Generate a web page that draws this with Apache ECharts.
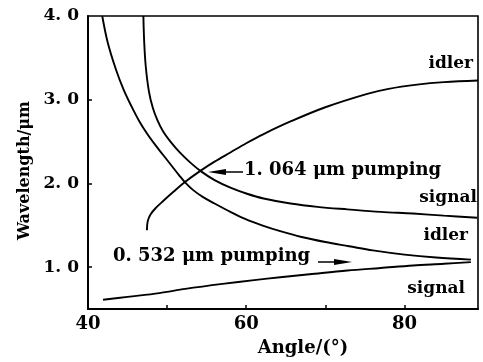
<!DOCTYPE html>
<html>
<head>
<meta charset="utf-8">
<script src="https://cdn.jsdelivr.net/npm/echarts@6/dist/echarts.min.js"></script>
<style>
html,body{margin:0;padding:0;background:#fff;}
#c{width:483px;height:362px;}
</style>
</head>
<body>
<div id="c"></div>
<script>
// Data (angle in degrees, wavelength in µm)
const idler532 = [[41.8,4.0],[42.5,3.68],[43.5,3.37],[44.5,3.12],[45.5,2.92],[46.5,2.74],[47.5,2.59],[48.5,2.46],[49.5,2.34],[50.5,2.22],[51.5,2.1],[52.3,2.01],[53.3,1.92],[54.5,1.84],[56,1.76],[58,1.66],[60,1.57],[62,1.5],[64.3,1.43],[67,1.36],[70,1.3],[73,1.25],[76,1.2],[80,1.15],[84,1.115],[88.4,1.09]];
const signal1064 = [[47.0,4.0],[47.1,3.7],[47.3,3.4],[47.7,3.1],[48.2,2.9],[48.8,2.75],[49.5,2.62],[50.5,2.49],[51.6,2.37],[52.8,2.26],[54.2,2.15],[56,2.04],[58,1.95],[60,1.88],[62.2,1.82],[65.6,1.76],[69,1.72],[72.8,1.69],[77,1.66],[81.1,1.64],[85,1.615],[89.2,1.59]];
const idler1064 = [[47.45,1.44],[47.55,1.55],[47.9,1.63],[48.6,1.71],[49.5,1.79],[50.8,1.9],[52.3,2.02],[54.2,2.15],[56,2.26],[58,2.37],[60,2.48],[62.2,2.59],[65.6,2.74],[70,2.91],[75.3,3.07],[78,3.13],[81.6,3.18],[85,3.21],[89.3,3.23]];
const signal532 = [[41.9,0.61],[45,0.645],[49,0.69],[52.3,0.74],[57,0.8],[61,0.845],[64.3,0.88],[68,0.915],[72.8,0.96],[77,0.99],[81.1,1.02],[85,1.04],[88.4,1.06]];
const xTickLabels = [40,60,80];
const xTicks = [50,60,70,80];
const yTickLabels = [1,2,3,4];
const yTicks = [1,2,3];

const FONT = 'DejaVu Serif';
const chart = echarts.init(document.getElementById('c'), null, {renderer:'canvas'});

function lineSeries(data){
  return {type:'line', data:data, smooth:0.35, showSymbol:false,
    lineStyle:{color:'#000', width:1.9}, clip:true, silent:true};
}

const txt = {fill:'#000', font:'bold 17px "' + FONT + '"'};
const txtBig = {fill:'#000', font:'bold 18px "' + FONT + '"'};

chart.setOption({
  animation:false,
  backgroundColor:'#fff',
  grid:{left:88, right:5, top:16, bottom:51, show:true, borderColor:'#000', borderWidth:1.6},
  xAxis:{type:'value', min:40, max:89.3,
    name:'Angle/(°)', nameLocation:'middle', nameGap:30,
    nameTextStyle:{color:'#000', fontFamily:FONT, fontWeight:'bold', fontSize:18, padding:[0,0,0,40]},
    axisLine:{show:true, lineStyle:{color:'#000', width:2}},
    axisTick:{show:true, inside:true, length:4, customValues:xTicks, lineStyle:{color:'#000', width:1.5}},
    axisLabel:{customValues:xTickLabels, color:'#000', fontFamily:FONT, fontWeight:'bold', fontSize:18, margin:6},
    splitLine:{show:false}},
  yAxis:{type:'value', min:0.5, max:4.0,
    name:'Wavelength/μm', nameLocation:'middle', nameGap:51,
    nameTextStyle:{color:'#000', fontFamily:FONT, fontWeight:'bold', fontSize:16, padding:[0,16,0,0]},
    axisLine:{show:true, lineStyle:{color:'#000', width:2}},
    axisTick:{show:true, inside:true, length:4, customValues:yTicks, lineStyle:{color:'#000', width:1.5}},
    axisLabel:{customValues:yTickLabels, color:'#000', fontFamily:FONT, fontWeight:'bold', fontSize:17, margin:9,
      formatter:function(v){ return v.toFixed(1).replace('.', '. '); }},
    splitLine:{show:false}},
  series:[lineSeries(idler532), lineSeries(signal1064), lineSeries(idler1064), lineSeries(signal532)],
  graphic:[
    {type:'text', right:10, top:55, style:Object.assign({text:'idler'}, txt)},
    {type:'text', left:244, top:161, style:Object.assign({text:'1. 064 μm pumping'}, txtBig)},
    {type:'text', right:6, top:189, style:Object.assign({text:'signal'}, txt)},
    {type:'text', right:15, top:227, style:Object.assign({text:'idler'}, txt)},
    {type:'text', left:113, top:247, style:Object.assign({text:'0. 532 μm pumping'}, txtBig)},
    {type:'text', right:18, top:280, style:Object.assign({text:'signal'}, txt)},
    {type:'polyline', shape:{points:[[243,172],[214,172]]}, style:{stroke:'#000', lineWidth:1.5}},
    {type:'polygon', shape:{points:[[208,172],[226,169],[226,175]]}, style:{fill:'#000'}},
    {type:'polyline', shape:{points:[[318,262],[346,262]]}, style:{stroke:'#000', lineWidth:1.5}},
    {type:'polygon', shape:{points:[[352,262],[334,259],[334,265]]}, style:{fill:'#000'}}
  ]
});
</script>
</body>
</html>
